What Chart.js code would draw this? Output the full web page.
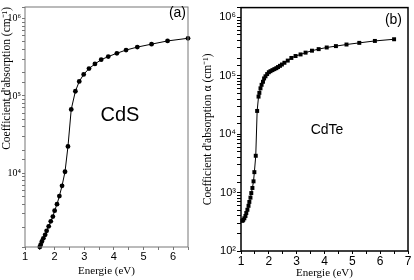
<!DOCTYPE html>
<html>
<head>
<meta charset="utf-8">
<script src="https://cdn.jsdelivr.net/npm/chart.js@4.4.1/dist/chart.umd.min.js"></script>
<style>
  body { margin: 0; background: #fff; }
  #wrap { position: relative; width: 414px; height: 280px; }
  canvas { position: absolute; top: 0; }
  #chartCdS { left: 0; }
  #chartCdTe { left: 198px; }
</style>
</head>
<body>
<div id="wrap">
  <canvas id="chartCdS" width="205" height="280"></canvas>
  <canvas id="chartCdTe" width="216" height="280"></canvas>
</div>
<script>
// données
const energieCdS = [1.50, 1.53, 1.57, 1.62, 1.68, 1.73, 1.80, 1.87, 1.94, 2.00, 2.08, 2.16, 2.25, 2.35, 2.45,
  2.56, 2.70, 2.83, 2.98, 3.16, 3.36, 3.57, 3.81, 4.10, 4.41, 4.79, 5.27, 5.81, 6.50];
const alphaCdS = [1120, 1200, 1320, 1450, 1610, 1810, 2070, 2400, 2770, 3300, 4000, 5100, 6900, 10500, 22300,
  67000, 115000, 154000, 190000, 226000, 259000, 294000, 323000, 356000, 392000, 428000, 467000, 514000, 556000];

const energieCdTe = [1.05, 1.08, 1.12, 1.16, 1.19, 1.23, 1.27, 1.30, 1.34, 1.37, 1.41, 1.45, 1.48, 1.53,
  1.58, 1.63, 1.66, 1.70, 1.74, 1.79, 1.83, 1.88, 1.94, 2.00, 2.06, 2.13, 2.20, 2.27, 2.33, 2.40, 2.47,
  2.56, 2.68, 2.81, 2.96, 3.14, 3.32, 3.55, 3.79, 4.08, 4.41, 4.79, 5.25, 5.81, 6.50];
const alphaCdTe = [328, 341, 363, 398, 447, 508, 593, 692, 819, 982, 1200, 1560, 2240, 4270,
  25000, 44000, 51000, 61000, 70000, 79000, 90000, 98000, 107000, 115000, 120000, 125000, 130000, 135000, 141000, 148000, 156000,
  167000, 182000, 202000, 218000, 232000, 249000, 269000, 286000, 305000, 322000, 343000, 366000, 395000, 422000];

const xTicksCdS = [1, 2, 3, 4, 5, 6];
const xTicksCdTe = [1, 2, 3, 4, 5, 6, 7];

const sup = ['⁰', '¹', '²', '³', '⁴', '⁵', '⁶', '⁷', '⁸', '⁹'];

function puissance(v) {
  const l = Math.log10(v);
  if (Math.abs(l - Math.round(l)) < 1e-9) return '10' + sup[Math.round(l)];
  return '';
}

function points(xs, ys) {
  return xs.map((x, i) => ({ x: x, y: ys[i] }));
}

// cadre + textes (a), CdS ...
const cadre = {
  id: 'cadre',
  afterDraw(chart, args, opts) {
    const a = chart.chartArea;
    const ctx = chart.ctx;
    ctx.save();
    ctx.strokeStyle = opts.color;
    ctx.lineWidth = opts.width;
    ctx.strokeRect(a.left, a.top, a.right - a.left, a.bottom - a.top);
    ctx.fillStyle = '#000';
    ctx.textBaseline = 'middle';
    opts.texts.forEach(t => {
      ctx.font = t.font;
      ctx.textAlign = t.align;
      ctx.fillText(t.text, t.x, t.y);
    });
    ctx.restore();
  }
};

function makeChart(id, cfg) {
  return new Chart(document.getElementById(id), {
    type: 'line',
    data: {
      datasets: [{
        data: points(cfg.xs, cfg.ys),
        borderColor: '#000',
        backgroundColor: '#000',
        borderWidth: 1,
        pointStyle: cfg.pointStyle,
        pointRadius: cfg.pointRadius,
        pointBorderWidth: 0,
        tension: 0,
        clip: false
      }]
    },
    options: {
      responsive: false,
      animation: false,
      events: [],
      layout: { padding: cfg.padding },
      plugins: {
        legend: { display: false },
        tooltip: { enabled: false },
        cadre: { color: cfg.frameColor, width: cfg.frameWidth, texts: cfg.texts }
      },
      scales: {
        x: {
          type: 'linear',
          min: cfg.xMin,
          max: cfg.xMax,
          afterFit: s => { s.height = cfg.xHeight; },
          ticks: {
            stepSize: 0.5,
            autoSkip: false,
            maxRotation: 0,
            padding: 0,
            color: '#000',
            font: { family: 'Liberation Sans', size: cfg.xTickSize },
            callback: v => cfg.xTicks.includes(v) ? String(v) : ''
          },
          grid: { drawOnChartArea: false, tickLength: 3, color: cfg.frameColor },
          border: { display: false },
          title: {
            display: true,
            text: 'Energie (eV)',
            color: '#000',
            padding: { top: 0, bottom: cfg.xTitlePad },
            font: { family: 'Liberation Serif', size: 11 }
          }
        },
        y: {
          type: 'logarithmic',
          min: cfg.yMin,
          max: cfg.yMax,
          afterFit: s => { s.width = cfg.yWidth; },
          ticks: {
            autoSkip: false,
            padding: 1,
            color: '#000',
            font: { family: cfg.yTickFamily, size: cfg.yTickSize },
            callback: v => puissance(v)
          },
          grid: { drawOnChartArea: false, tickLength: cfg.yTickLen, color: cfg.frameColor },
          border: { display: false },
          title: {
            display: true,
            text: cfg.yTitle,
            align: cfg.yTitleAlign,
            color: '#000',
            padding: { top: cfg.yTitlePad, bottom: 0 },
            font: { family: 'Liberation Serif', size: 11.5 }
          }
        }
      }
    },
    plugins: [cadre]
  });
}

makeChart('chartCdS', {
  xs: energieCdS, ys: alphaCdS,
  pointStyle: 'circle', pointRadius: 2.4,
  padding: { top: 1, right: 17, bottom: 0, left: 0 },
  xMin: 1, xMax: 6.5, xTicks: xTicksCdS, xHeight: 33, xTickSize: 11, xTitlePad: 2,
  yMin: 1120, yMax: 1.41e6, yWidth: 25, yTickLen: 3,
  yTickFamily: 'Liberation Serif', yTickSize: 10,
  yTitle: "Coefficient d'absorption (cm⁻¹)", yTitleAlign: 'end', yTitlePad: 0,
  frameColor: '#777', frameWidth: 1,
  texts: [
    { text: '(a)', x: 186, y: 13, align: 'right', font: '14px "Liberation Sans"' },
    { text: 'CdS', x: 120, y: 115, align: 'center', font: '20px "Liberation Sans"' }
  ]
});

makeChart('chartCdTe', {
  xs: energieCdTe, ys: alphaCdTe,
  pointStyle: 'rect', pointRadius: 2.8,
  padding: { top: 4, right: 6, bottom: 0, left: 0 },
  xMin: 1, xMax: 7, xTicks: xTicksCdTe, xHeight: 29, xTickSize: 12, xTitlePad: 0,
  yMin: 100, yMax: 1.47e6, yWidth: 43, yTickLen: 4,
  yTickFamily: 'Liberation Sans', yTickSize: 11,
  yTitle: "Coefficient d'absorption α (cm⁻¹)", yTitleAlign: 'center', yTitlePad: 3,
  frameColor: '#000', frameWidth: 1.5,
  texts: [
    { text: '(b)', x: 204, y: 20, align: 'right', font: '14px "Liberation Sans"' },
    { text: 'CdTe', x: 129, y: 130, align: 'center', font: '14px "Liberation Sans"' }
  ]
});
</script>
</body>
</html>
